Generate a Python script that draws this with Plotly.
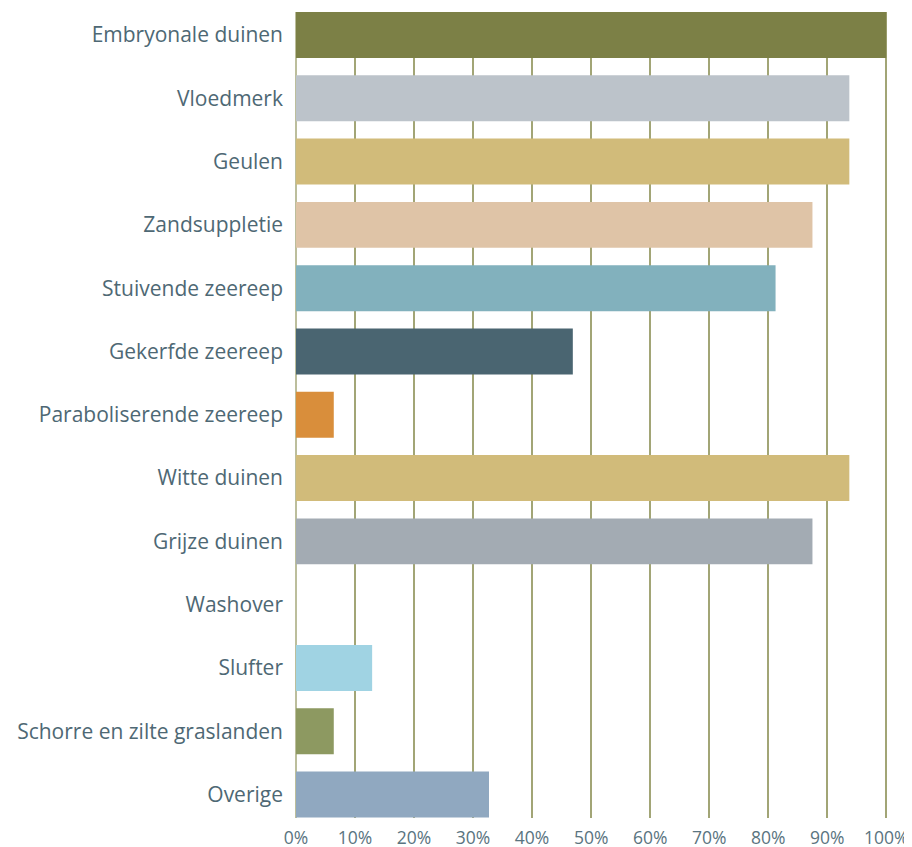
import plotly.graph_objects as go

categories = ["Embryonale duinen", "Vloedmerk", "Geulen", "Zandsuppletie", "Stuivende zeereep",
              "Gekerfde zeereep", "Paraboliserende zeereep", "Witte duinen", "Grijze duinen",
              "Washover", "Slufter", "Schorre en zilte graslanden", "Overige"]
values = [100, 93.75, 93.75, 87.5, 81.25, 46.9, 6.4, 93.75, 87.5, 0, 12.9, 6.4, 32.7]
colors = ["#7c8046", "#bcc3ca", "#d1bb7a", "#dfc4a7", "#82b1bd", "#4a6571", "#d98e3b",
          "#d1bb7a", "#a3abb3", "#cccccc", "#a0d3e3", "#8d9961", "#90a8c0"]
tick_vals = [0, 10, 20, 30, 40, 50, 60, 70, 80, 90, 100]
tick_text = [f"{v}%" for v in tick_vals]

fig = go.Figure(go.Bar(
    y=list(range(len(categories))), x=values, orientation="h",
    marker=dict(color=colors, line=dict(width=0)),
    hovertext=categories, hoverinfo="x+text",
))

fig.update_layout(
    width=904, height=839,
    margin=dict(l=288, r=24, t=4, b=29, pad=0),
    paper_bgcolor="white", plot_bgcolor="white",
    font=dict(family="Open Sans", color="#4e6874"),
    bargap=0.274,
    showlegend=False,
    xaxis=dict(range=[0, 100.3], tickvals=tick_vals, ticktext=tick_text,
               showgrid=True, gridcolor="#a2a576", gridwidth=1.5,
               zeroline=True, zerolinecolor="#bcbe9c", zerolinewidth=1.5,
               showline=False, ticks="", ticklabelstandoff=7, automargin=False,
               tickfont=dict(size=17.5, color="#5a7480"),
               fixedrange=True),
    yaxis=dict(range=[12.37, -0.363], tickvals=list(range(len(categories))),
               ticktext=categories, automargin=False,
               showgrid=False, zeroline=False, ticks="", ticklabelstandoff=12,
               tickfont=dict(size=21, color="#4e6874"), fixedrange=True),
)

fig.write_html("out.html")
